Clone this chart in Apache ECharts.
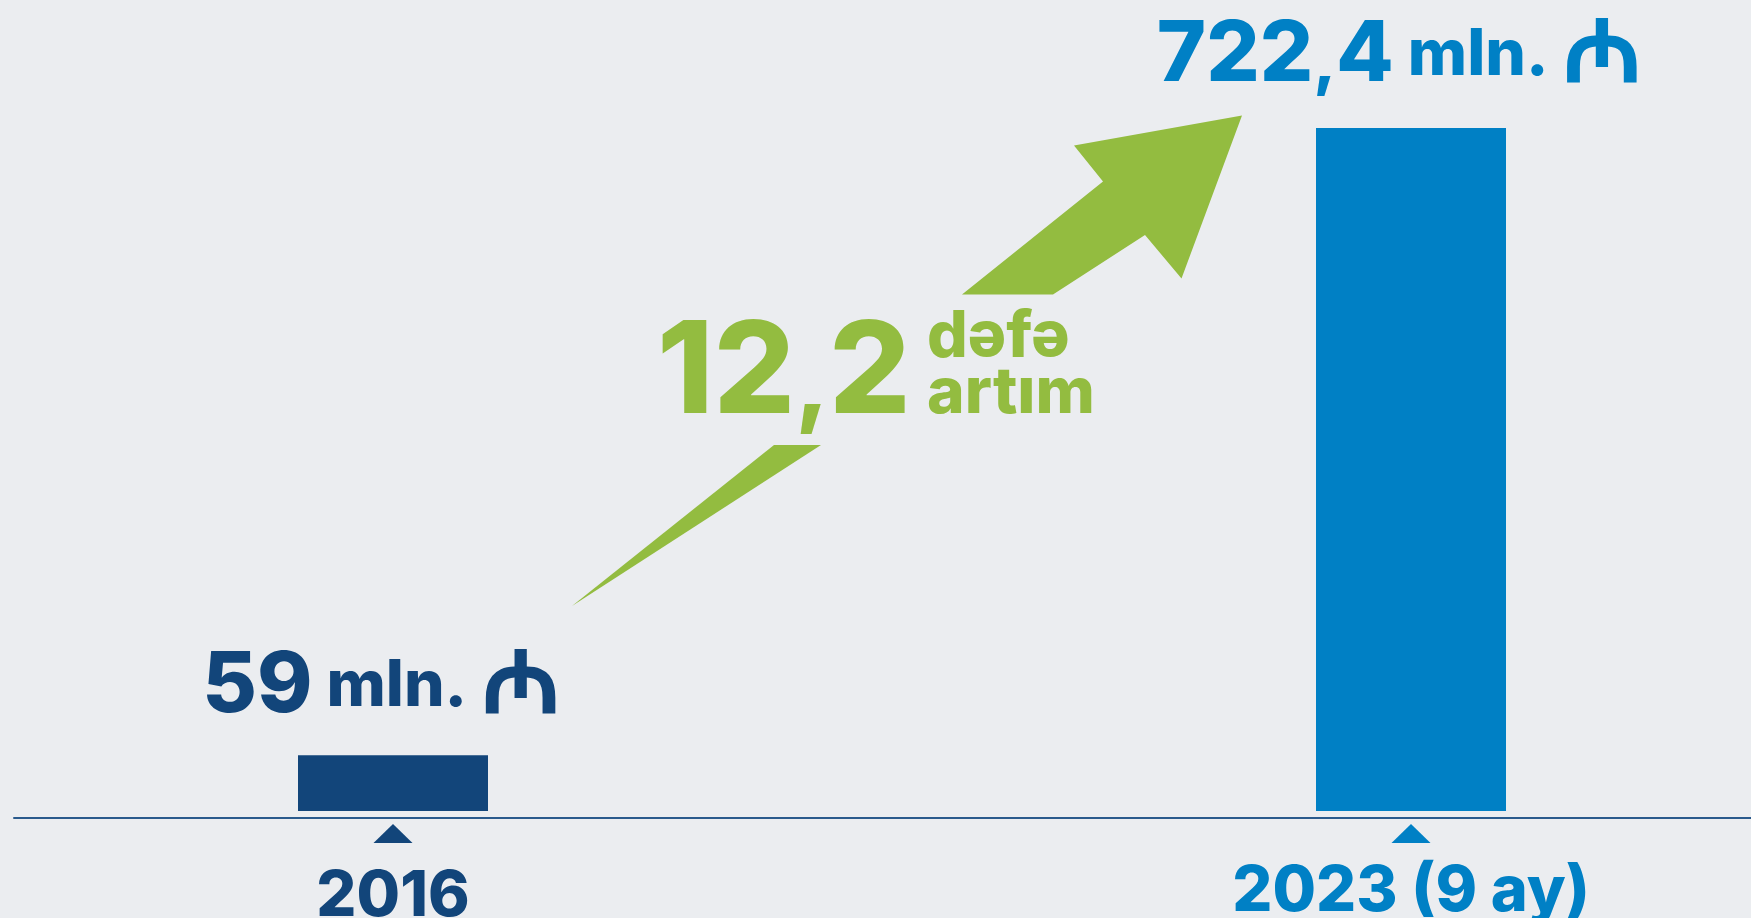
<!DOCTYPE html>
<html>
<head>
<meta charset="utf-8">
<script src="https://cdn.jsdelivr.net/npm/echarts@6.0.0/dist/echarts.min.js"></script>
<style>
html,body{margin:0;padding:0;background:#ebedf0;}
#chart{width:1751px;height:918px;}
</style>
</head>
<body>
<div id="chart"></div>
<script>
// ---- data ----
const categories = ['2016', '2023 (9 ay)'];
const values = [59, 722.4];
const unitText = 'mln.';
const currencyText = '₼';
const growthWords = ['dəfə', 'artım'];

// ---- styles ----
const palette = ['#12457a', '#0080c5'];
const green = '#93bc40';
const FONT = 'Inter, Lato, sans-serif';

// number -> rich text with a tighter comma
const richNum = (v, tok) => {
  const parts = String(v).split('.');
  return '{' + tok + '|' + parts[0] + '}' + (parts.length > 1 ? '{' + tok + 'c|,}{' + tok + '|' + parts[1] + '}' : '');
};
const ratio = (values[1] / values[0]).toFixed(1);

const labelDistances = [23, 27];
const axisLabelPads = [[5, 0, 0, 0], [0, 0, 0, 0]];

const barData = values.map((v, i) => ({
  value: v,
  itemStyle: { color: palette[i] },
  label: { color: palette[i], distance: labelDistances[i] }
}));
const tickMarks = categories.map((c, i) => ({
  value: [c, 0],
  itemStyle: { color: palette[i], opacity: 1 }
}));
const catData = categories.map((c, i) => ({
  value: c,
  textStyle: { color: palette[i], padding: axisLabelPads[i] }
}));

const chart = echarts.init(document.getElementById('chart'), null, { renderer: 'canvas' });
chart.setOption({
  backgroundColor: '#ebedf0',
  animation: false,
  grid: [
    { left: -116, right: -169, top: 7.4, bottom: 107, outerBoundsMode: 'none', containLabel: false },
    { left: 14, right: -5, top: 7.4, bottom: 100, outerBoundsMode: 'none', containLabel: false }
  ],
  xAxis: [
    {
      type: 'category', gridIndex: 0, data: catData,
      axisLine: { show: false }, axisTick: { show: false },
      axisLabel: { margin: 50, fontSize: 63, fontWeight: 800, fontFamily: FONT, interval: 0 },
      splitLine: { show: false }
    },
    {
      type: 'value', gridIndex: 1, min: 0, max: 1,
      axisLine: { show: true, onZero: false, lineStyle: { color: '#2a5a8c', width: 2 } },
      axisTick: { show: false }, axisLabel: { show: false }, splitLine: { show: false }
    }
  ],
  yAxis: [
    { type: 'value', gridIndex: 0, min: 0, max: 850, show: false, splitLine: { show: false } },
    { type: 'value', gridIndex: 1, min: 0, max: 1, show: false, splitLine: { show: false } }
  ],
  series: [
    {
      type: 'bar', xAxisIndex: 0, yAxisIndex: 0,
      barWidth: 190, data: barData,
      label: {
        show: true, position: 'top', offset: [-12, 0],
        formatter: p => richNum(p.value, 'num') + '{unit| ' + unitText + ' }{cur|' + currencyText + '}',
        rich: {
          num: { fontSize: 84, fontWeight: 800, fontFamily: FONT, lineHeight: 84 },
          numc: { fontSize: 64, fontWeight: 800, fontFamily: FONT, lineHeight: 84, padding: [15, 0, 0, 0] },
          unit: { fontSize: 64, fontWeight: 800, fontFamily: FONT, lineHeight: 70 },
          cur: { fontSize: 90, fontWeight: 'bold', fontFamily: '"Noto Sans", "DejaVu Sans", sans-serif', lineHeight: 90 }
        }
      }
    },
    {
      type: 'scatter', xAxisIndex: 0, yAxisIndex: 0,
      symbol: 'triangle', symbolSize: [39, 19], symbolOffset: [0, 22.5],
      silent: true, clip: false, z: 5,
      data: tickMarks
    }
  ],
  graphic: [
    {
      type: 'polygon', silent: true,
      shape: { points: [[572, 606], [774, 445], [821, 445]] },
      style: { fill: green }
    },
    {
      type: 'polygon', silent: true,
      shape: { points: [[962, 294.5], [1053, 294.5], [1145, 235], [1181.5, 278.5], [1242, 115.5], [1074, 145.5], [1103, 181.5]] },
      style: { fill: green }
    },
    {
      type: 'text', silent: true,
      style: {
        x: 657, y: 375, text: richNum(ratio, 'big'), fill: green, textAlign: 'left', textVerticalAlign: 'middle',
        rich: {
          big: { fontSize: 128, fontWeight: 800, fontFamily: FONT, lineHeight: 128, fill: green },
          bigc: { fontSize: 96, fontWeight: 800, fontFamily: FONT, lineHeight: 96, padding: [23, 0, 0, 0], fill: green }
        }
      }
    },
    {
      type: 'text', silent: true,
      style: { x: 927, y: 337.4, text: growthWords[0], font: '800 64px ' + FONT, fill: green, textAlign: 'left', textVerticalAlign: 'middle' }
    },
    {
      type: 'text', silent: true,
      style: { x: 927, y: 393.8, text: growthWords[1], font: '800 64px ' + FONT, fill: green, textAlign: 'left', textVerticalAlign: 'middle' }
    }
  ]
});
</script>
</body>
</html>
